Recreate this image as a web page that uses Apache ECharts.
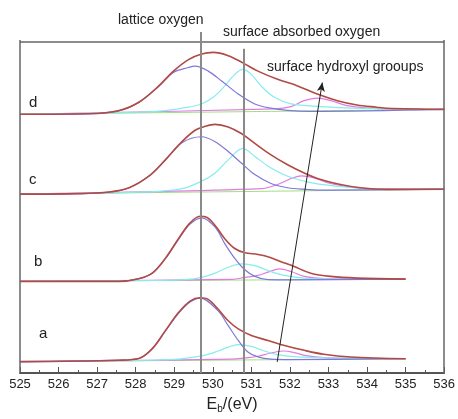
<!DOCTYPE html>
<html>
<head>
<meta charset="utf-8">
<script src="https://cdn.jsdelivr.net/npm/echarts@6/dist/echarts.min.js"></script>
<style>
  html, body { margin: 0; padding: 0; background: #fff; }
  #chart { width: 458px; height: 419px; }
</style>
</head>
<body>
<div id="chart"></div>
<script>
// O1s spectra, [binding energy (eV), plotted intensity (stacked, arb. units)]
// spectrum d
const baseD = [[525, 262.5], [536, 267.5]]
const envD = [[525, 262.5], [526.8, 263], [527.57, 266.3], [528.08, 274.7], [528.6, 291.3], [528.98, 306.3],
  [529.37, 318], [529.71, 323.7], [530.01, 325.3], [530.4, 322], [530.78, 314.7], [531.17, 306.3],
  [531.68, 298], [532.2, 291.3], [532.71, 283], [533.23, 276.3], [533.74, 272], [534.25, 269.7],
  [534.51, 268.7], [536, 267.5]]
const latD = [[525, 262.5], [527, 263.5], [527.57, 266], [528.08, 274.5], [528.6, 291], [528.98, 305],
  [529.37, 310], [529.54, 311.3], [529.88, 306.3], [530.23, 296.3], [530.66, 283], [531.09, 273],
  [531.51, 268.7], [531.94, 266.5], [532.5, 265.5], [536, 267.5]]
const adsD = [[525, 262.5], [528.08, 264.7], [528.77, 266.3], [529.37, 269.7], [529.71, 273], [530.01, 279.7],
  [530.31, 291.3], [530.57, 303], [530.78, 308], [531.0, 303], [531.25, 291.3], [531.6, 279.7],
  [532.03, 273], [532.8, 270.3], [533.65, 268.7], [536, 267.5]]
const ohD = [[525, 262.5], [531.6, 268], [532.03, 270.3], [532.37, 276.3], [532.71, 279], [533.06, 276.3],
  [533.48, 271.3], [534.08, 268.7], [534.51, 268], [536, 267.5]]

// spectrum c
const baseC = [[525, 181.5], [536, 186.5]]
const envC = [[525, 181.5], [526.5, 182], [527.31, 183.7], [527.83, 188], [528.34, 199.7], [528.77, 216.3],
  [529.2, 234.7], [529.54, 246.3], [529.8, 250.3], [530.06, 252.3], [530.4, 249.7], [530.74, 243],
  [531.09, 233], [531.51, 221.3], [531.94, 211.3], [532.37, 203], [532.8, 196.3], [533.31, 191.3],
  [533.83, 188], [534.51, 186.3], [536, 186.5]]
const latC = [[525, 181.5], [526.5, 182], [527.31, 183.5], [527.83, 188], [528.34, 199.5], [528.77, 216],
  [529.2, 233.7], [529.71, 239.7], [530.06, 234.7], [530.4, 224.7], [530.74, 213], [531.09, 201.3],
  [531.51, 192.3], [531.94, 188], [532.37, 186.5], [533, 185.5], [536, 186.5]]
const adsC = [[525, 181.5], [528.34, 183.7], [529.2, 187], [529.71, 194.7], [530.06, 203], [530.4, 216.3],
  [530.78, 228], [531.09, 219.7], [531.51, 208], [531.94, 199.7], [532.37, 194.7], [532.8, 191.3],
  [533.66, 188], [534.51, 186.3], [536, 186.5]]
const ohC = [[525, 181.5], [531.26, 187], [531.68, 191.3], [532.03, 197.3], [532.3, 200], [532.63, 198],
  [532.97, 193], [533.49, 189], [534.09, 187], [536, 186.5]]

// spectrum b
const baseB = [[525, 93], [535, 95.3]]
const envB = [[525, 93], [527.57, 93], [528.08, 95.7], [528.43, 101.3], [528.77, 116.3], [529.11, 136.3],
  [529.41, 152.3], [529.67, 159], [529.84, 158], [530.06, 149.7], [530.31, 136.3], [530.57, 126.3],
  [530.83, 122], [531.17, 120.3], [531.43, 118], [531.77, 113], [532.11, 108], [532.54, 101.3],
  [533.05, 98], [533.74, 96.3], [535, 95.3]]
const latB = [[525, 93], [527.57, 93], [528.08, 95.7], [528.43, 101.3], [528.77, 116], [529.11, 135.5],
  [529.41, 151], [529.71, 157.5], [530.06, 148], [530.31, 131.3], [530.57, 116.3], [530.83, 104.7],
  [531.09, 98], [531.43, 94.7], [532, 94.5], [535, 95.3]]
const adsB = [[525, 93], [528.5, 94], [529.28, 94.7], [529.71, 97], [530.06, 101.3], [530.4, 107.3],
  [530.74, 110.7], [531.09, 109], [531.43, 104], [531.86, 99], [532.37, 96.3], [533, 95.3], [535, 95.3]]
const ohB = [[525, 93], [530.5, 95], [530.83, 97], [531.17, 99], [531.43, 102.3], [531.73, 105.7],
  [532.03, 103], [532.37, 98], [532.88, 95.7], [535, 95.3]]

// spectrum a
const baseA = [[525, 11.5], [535, 14.5]]
const envA = [[525, 11.5], [527.57, 13], [528.08, 14.7], [528.43, 24.7], [528.77, 43], [529.11, 61.3],
  [529.41, 73], [529.67, 76.3], [529.88, 74.7], [530.14, 64.7], [530.4, 53], [530.66, 44.7],
  [531.0, 38], [531.43, 33], [531.86, 28], [532.37, 23], [532.88, 19], [533.57, 16.3], [535, 14.5]]
const latA = [[525, 11.5], [527.57, 13], [528.08, 14.7], [528.43, 24.5], [528.77, 42.5], [529.11, 60.5],
  [529.41, 72], [529.67, 76], [530.14, 63], [530.4, 48], [530.66, 33], [530.91, 21.3],
  [531.17, 16.3], [531.51, 14], [532, 13.5], [535, 14.5]]
const adsA = [[525, 11.5], [528.5, 13], [529.11, 14], [529.71, 17.3], [530.14, 22.3], [530.4, 26.3],
  [530.66, 28.7], [531.0, 27], [531.34, 22.3], [531.68, 18.7], [532.2, 16.3], [532.97, 15.3], [535, 14.5]]
const ohA = [[525, 11.5], [530.5, 14], [530.83, 15.3], [531.17, 17], [531.51, 20.3], [531.86, 22.3],
  [532.11, 20.7], [532.46, 17.3], [532.97, 15.3], [535, 14.5]]

// reference energies, frame and the shift arrow
const latticeEnergy = 529.7
const adsorbedEnergy = 530.8
const frameTop = 336
const arrowFrom = [531.67, 11.3]
const arrowTo = [532.84, 294.7]

const sampleLabels = ['a', 'b', 'c', 'd']
const peakNames = ['lattice oxygen', 'surface absorbed oxygen', 'surface hydroxyl grooups']

const spectra = [
  { base: baseA, env: envA, lat: latA, ads: adsA, oh: ohA },
  { base: baseB, env: envB, lat: latB, ads: adsB, oh: ohB },
  { base: baseC, env: envC, lat: latC, ads: adsC, oh: ohC },
  { base: baseD, env: envD, lat: latD, ads: adsD, oh: ohD }
]

const colors = {
  base: '#9ee07e',
  oh: '#e27ae2',
  ads: '#86ecec',
  lat: '#7e78d8',
  env: '#b24a44'
}

const chart = echarts.init(document.getElementById('chart'))

const curve = (data, color, width) => ({
  type: 'line',
  data: data,
  smooth: 0.35,
  symbol: 'none',
  silent: true,
  lineStyle: { color: color, width: width }
})

const series = []
spectra.forEach(s => {
  series.push(curve(s.base, colors.base, 1))
  series.push(curve(s.oh, colors.oh, 1.2))
  series.push(curve(s.ads, colors.ads, 1.2))
  series.push(curve(s.lat, colors.lat, 1.2))
  series.push(curve(s.env, colors.env, 1.6))
})

// frame, guide lines and arrow
series.push({
  type: 'line',
  data: [],
  silent: true,
  markLine: {
    silent: true,
    symbol: 'none',
    label: { show: false },
    lineStyle: { color: '#8a8a8a', width: 2, type: 'solid' },
    data: [
      [{ coord: [525, frameTop], lineStyle: { color: '#666', width: 1.5 } }, { coord: [536, frameTop] }],
      [{ coord: [525, 0], lineStyle: { color: '#666', width: 1.5 } }, { coord: [525, frameTop + 2] }],
      [{ coord: [536, 0], lineStyle: { color: '#666', width: 1.5 } }, { coord: [536, frameTop + 2] }],
      [{ coord: [latticeEnergy, 0] }, { coord: [latticeEnergy, frameTop + 10] }],
      [{ coord: [adsorbedEnergy, 0] }, { coord: [adsorbedEnergy, frameTop - 7] }],
      [{ coord: arrowFrom, symbol: 'none', lineStyle: { color: '#222', width: 1 } },
       { coord: arrowTo, symbol: 'arrow', symbolSize: [6, 9] }]
    ]
  }
})

const textStyle = { fill: '#222', font: '14px "Liberation Sans", Arial, sans-serif' }
const letterFont = '15px "Liberation Sans", Arial, sans-serif'

const option = {
  animation: false,
  grid: { left: 20, right: 10, top: 32, bottom: 41 },
  xAxis: {
    type: 'value',
    min: 525,
    max: 536,
    interval: 1,
    axisLine: { show: true, lineStyle: { color: '#555', width: 2 } },
    axisTick: { inside: true, length: 6, lineStyle: { color: '#555' } },
    minorTick: { show: true, splitNumber: 2, length: 3, lineStyle: { color: '#555' } },
    splitLine: { show: false },
    axisLabel: { color: '#222', fontSize: 13, margin: 5, fontFamily: '"Liberation Sans", Arial' },
    name: '{e|E}{s|b}{e|/(eV)}',
    nameLocation: 'middle',
    nameGap: 22,
    nameTextStyle: {
      rich: {
        e: { fontSize: 16, color: '#222', fontFamily: '"Liberation Sans", Arial' },
        s: { fontSize: 10, color: '#222', padding: [9, 0, 0, 0], fontFamily: '"Liberation Sans", Arial' }
      }
    }
  },
  yAxis: {
    type: 'value',
    min: 0,
    max: 346,
    show: false
  },
  graphic: [
    { type: 'text', left: 118, top: 13, style: Object.assign({ text: peakNames[0] }, textStyle) },
    { type: 'text', left: 223, top: 25, style: Object.assign({ text: peakNames[1] }, textStyle) },
    { type: 'text', left: 267, top: 60, style: Object.assign({ text: peakNames[2] }, textStyle) },
    { type: 'text', left: 39, top: 326, style: Object.assign({}, textStyle, { text: sampleLabels[0], font: letterFont }) },
    { type: 'text', left: 34, top: 254, style: Object.assign({}, textStyle, { text: sampleLabels[1], font: letterFont }) },
    { type: 'text', left: 29, top: 172, style: Object.assign({}, textStyle, { text: sampleLabels[2], font: letterFont }) },
    { type: 'text', left: 29, top: 95, style: Object.assign({}, textStyle, { text: sampleLabels[3], font: letterFont }) }
  ],
  series: series
}

chart.setOption(option)
</script>
</body>
</html>
